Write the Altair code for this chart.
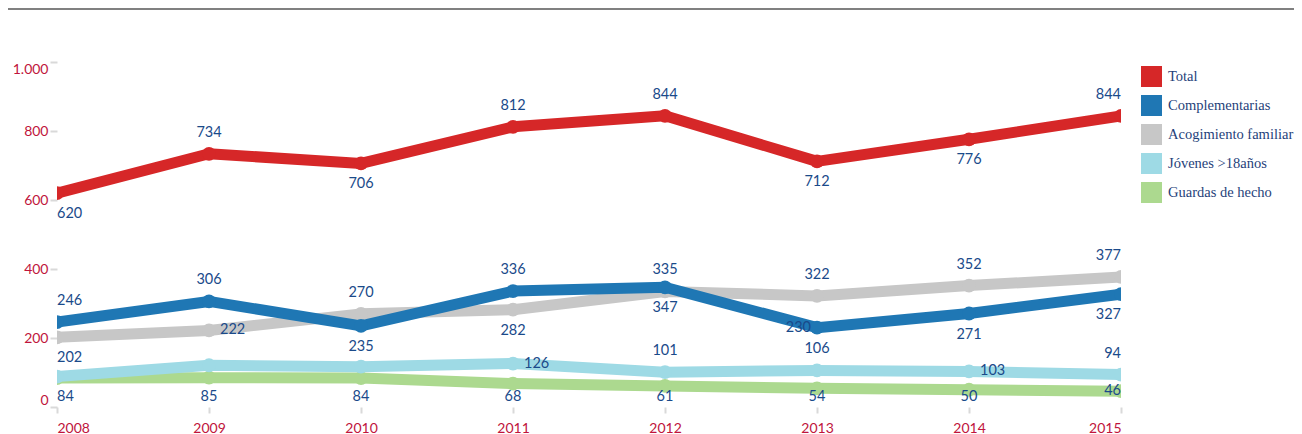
import altair as alt
import pandas as pd

YEARS = [2008, 2009, 2010, 2011, 2012, 2013, 2014, 2015]
SERIES = ["Total", "Complementarias", "Acogimiento familiar", "Jóvenes >18años", "Guardas de hecho"]
COLORS = ["#d62728", "#1f77b4", "#c7c7c7", "#9edae5", "#acd98f"]

TOTAL = [620, 734, 706, 812, 844, 712, 776, 844]
COMPLEMENTARIAS = [246, 306, 235, 336, 347, 230, 271, 327]
ACOGIMIENTO = [202, 222, 270, 282, 335, 322, 352, 377]
JOVENES = [88, 121, 117, 126, 101, 106, 103, 94]
GUARDAS = [84, 85, 84, 68, 61, 54, 50, 46]

Y_TICKS = [0, 200, 400, 600, 800, 1000]

# where each data label sits relative to its point
LABEL_POS = {
    "Total": ["below_start", "above", "below", "above", "above", "below", "below", "above_end"],
    "Complementarias": ["above_start", "above", "below", "above", "below", "left", "below", "below_end"],
    "Acogimiento familiar": ["below_start", "right", "above", "below", "above", "above", "above", "above_end"],
    "Jóvenes >18años": ["none", "none", "none", "right", "above", "above", "right", "above_end"],
    "Guardas de hecho": ["floor_start", "floor", "floor", "floor", "floor", "floor", "floor", "end"],
}

PLACEMENT_STYLE = {
    "above": dict(align="center", dx=0, dy=-21),
    "below": dict(align="center", dx=0, dy=21),
    "above_start": dict(align="left", dx=0, dy=-21),
    "below_start": dict(align="left", dx=0, dy=21),
    "above_end": dict(align="right", dx=0, dy=-21),
    "below_end": dict(align="right", dx=0, dy=21),
    "right": dict(align="left", dx=11, dy=0),
    "left": dict(align="right", dx=-6, dy=0),
    "end": dict(align="right", dx=0, dy=0),
    "floor": dict(align="center", dx=0, dy=-10),
    "floor_start": dict(align="left", dx=0, dy=-10),
}

VALUES = {
    "Total": TOTAL,
    "Complementarias": COMPLEMENTARIAS,
    "Acogimiento familiar": ACOGIMIENTO,
    "Jóvenes >18años": JOVENES,
    "Guardas de hecho": GUARDAS,
}

rows = []
for s in SERIES:
    for i, y in enumerate(YEARS):
        rows.append({"year": y, "series": s, "value": VALUES[s][i], "pos": LABEL_POS[s][i]})
df = pd.DataFrame(rows)

W, H = 1064, 345
PAD = {"left": 49, "top": 54, "right": 173, "bottom": 27}

x_enc = alt.X("year:Q", scale=alt.Scale(domain=[2008, 2015], nice=False, zero=False),
              axis=alt.Axis(values=YEARS, format="d", title=None, tickSize=6, labelPadding=8,
                            labelFlush=True, domain=False, grid=False, tickColor="#d9d9d9",
                            tickWidth=2))
y_scale = alt.Scale(domain=[0, 1000], nice=False)
y_axis = alt.Axis(values=Y_TICKS, title=None, tickSize=7, labelPadding=2,
                  labelFlush=True, domain=False, grid=False, tickColor="#d9d9d9",
                  tickWidth=2,
                  labelExpr="replace(format(datum.value, ','), ',', '.')")
y_enc = alt.Y("value:Q", scale=y_scale, axis=y_axis)
color_scale = alt.Scale(domain=SERIES, range=COLORS)
legend = alt.Legend(title=None, orient="none", legendX=1084, legendY=4,
                    symbolType="square", symbolSize=441, symbolStrokeWidth=0,
                    symbolOpacity=1, labelFont="Liberation Serif",
                    labelFontSize=14.5, labelColor="#1f3f7a",
                    rowPadding=8, labelOffset=6, padding=0, labelLimit=300)
color_enc = alt.Color("series:N", scale=color_scale, sort=SERIES, legend=legend)

base = alt.Chart(df)

layers = []
strip = alt.Chart(alt.Data(values=[{"a": 1}])).mark_rect(color="#808080", clip=False).encode(
    x=alt.value(-49), x2=alt.value(1237), y=alt.value(-54), y2=alt.value(-52))
layers.append(strip)

draw_order = ["Guardas de hecho", "Jóvenes >18años", "Acogimiento familiar", "Complementarias", "Total"]
for s in draw_order:
    sub = base.transform_filter(alt.datum.series == s)
    line = sub.mark_line(strokeWidth=11, strokeJoin="round", clip=True).encode(
        x=x_enc, y=y_enc, color=color_enc)
    pts = sub.mark_point(filled=True, size=190, opacity=1, clip=True).encode(
        x=x_enc, y=y_enc, color=color_enc)
    layers += [line, pts]

for code, st in PLACEMENT_STYLE.items():
    t = base.transform_filter(alt.datum.pos == code)
    if code.startswith("floor"):
        t = t.transform_calculate(anchor="0")
    else:
        t = t.transform_calculate(anchor="datum.value")
    t = t.mark_text(
        align=st["align"], baseline="middle", dx=st["dx"], dy=st["dy"],
        font="Lato", fontSize=14.5, color="#1a4a8a").encode(
        x=x_enc, y=alt.Y("anchor:Q", scale=y_scale, axis=y_axis),
        text=alt.Text("value:Q", format="d"))
    layers.append(t)

chart = alt.layer(*layers).properties(
    width=W, height=H, padding=PAD,
    autosize=alt.AutoSizeParams(type="none"),
).configure_view(stroke=None).configure_axis(
    labelFont="Lato", labelFontSize=14, labelColor="#c0143c"
)

chart.save("out.html", embed_options={"renderer": "svg", "actions": False})
